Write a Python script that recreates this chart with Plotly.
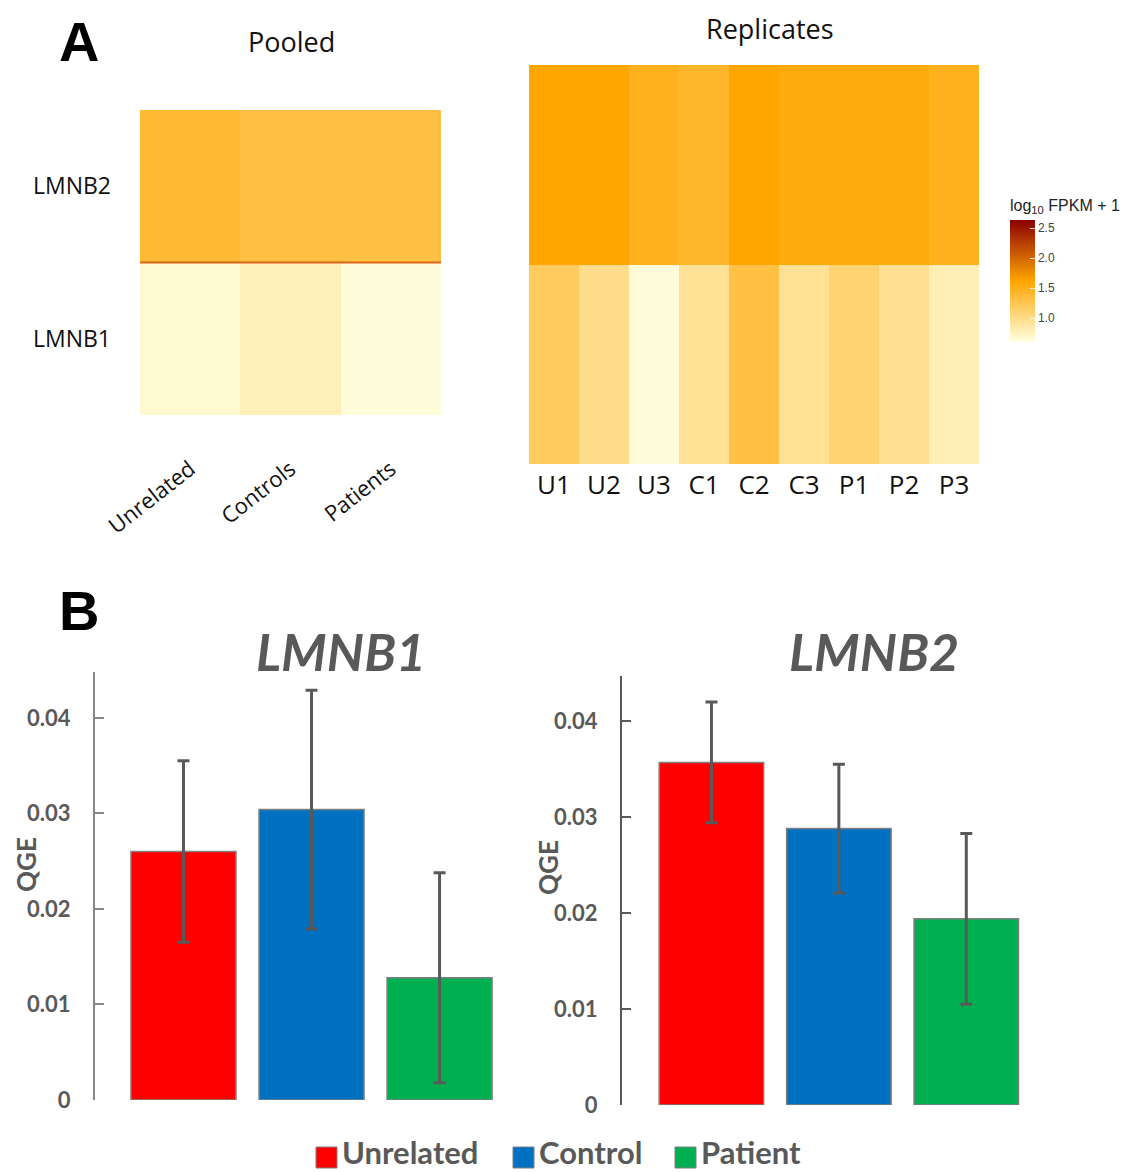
import plotly.graph_objects as go

# ---------------- data ----------------
pooled_groups = ["Unrelated", "Controls", "Patients"]
genes = ["LMNB1", "LMNB2"]
pooled_lmnb1 = [0.67, 0.78, 0.63]
pooled_lmnb2 = [1.38, 1.31, 1.31]

replicates = ["U1", "U2", "U3", "C1", "C2", "C3", "P1", "P2", "P3"]
rep_lmnb1 = [1.19, 0.99, 0.63, 0.94, 1.31, 0.94, 1.10, 0.95, 0.79]
rep_lmnb2 = [1.60, 1.60, 1.48, 1.42, 1.60, 1.55, 1.55, 1.55, 1.48]

bar_groups = ["Unrelated", "Control", "Patient"]
bar_colors = ["#FF0000", "#0070C0", "#00B050"]
lmnb1_qge = [0.0260, 0.0304, 0.0128]
lmnb1_err = [0.0095, 0.0125, 0.0110]
lmnb2_qge = [0.0357, 0.0288, 0.0194]
lmnb2_err = [0.0063, 0.0067, 0.0089]

W, H = 1132, 1172
OFF = 8  # page body margin
def px(x):
    return (x - OFF) / W
def py(y):
    return 1 - (y - OFF) / H

cscale = [[0, "#FFFFE0"], [0.5, "#FFA500"], [1, "#8B0000"]]
ZMIN, ZMAX = 0.6, 2.63

fig = go.Figure()

# pooled heatmap
fig.add_trace(go.Heatmap(
    z=[pooled_lmnb1, pooled_lmnb2], x=pooled_groups, y=genes,
    colorscale=cscale, zmin=ZMIN, zmax=ZMAX, showscale=False,
    xaxis="x", yaxis="y"))

# replicate heatmap
fig.add_trace(go.Heatmap(
    z=[rep_lmnb1, rep_lmnb2], x=replicates, y=genes,
    colorscale=cscale, zmin=ZMIN, zmax=ZMAX, showscale=True,
    xaxis="x2", yaxis="y2",
    colorbar=dict(
        x=px(1010), xanchor="left", xpad=0, y=py(342), yanchor="bottom", ypad=0,
        len=(342 - 196) / H, lenmode="fraction", thickness=25,
        outlinewidth=0, tickvals=[1.0, 1.5, 2.0, 2.5],
        ticktext=["1.0", "1.5", "2.0", "2.5"],
        ticks="inside", ticklen=5, tickcolor="rgba(255,255,255,0.8)",
        tickfont=dict(family="Liberation Sans", size=12, color="#444444"),
        title=dict(text="log<sub>10</sub> FPKM + 1", side="top",
                   font=dict(family="Liberation Sans", size=16, color="#222222")),
    )))

# thin dark line separating the pooled rows
fig.add_shape(type="line", xref="x domain", yref="y", x0=0, x1=1, y0=0.5, y1=0.5,
              line=dict(color="#D9651A", width=2))

# bar charts
for i in range(3):
    fig.add_trace(go.Bar(
        x=[i], y=[lmnb1_qge[i]], marker=dict(color=bar_colors[i], line=dict(color="#7F7F7F", width=1.5)),
        error_y=dict(type="data", array=[lmnb1_err[i]], color="#595959", thickness=3, width=6),
        width=0.82, name=bar_groups[i], showlegend=False, xaxis="x3", yaxis="y3"))
    fig.add_trace(go.Bar(
        x=[i], y=[lmnb2_qge[i]], marker=dict(color=bar_colors[i], line=dict(color="#7F7F7F", width=1.5)),
        error_y=dict(type="data", array=[lmnb2_err[i]], color="#595959", thickness=3, width=6),
        width=0.82, name=bar_groups[i], showlegend=False, xaxis="x4", yaxis="y4"))

hm_axis = dict(showgrid=False, zeroline=False, showline=False, ticks="", automargin=False)
tickfont_bar = dict(family="Lato", size=22, color="#595959", weight="bold")

fig.update_layout(
    width=W, height=H, margin=dict(l=0, r=0, t=0, b=0, autoexpand=False),
    paper_bgcolor="white", plot_bgcolor="white", showlegend=False,
    xaxis=dict(domain=[px(140), px(441)], anchor="y", tickangle=-38,
               tickfont=dict(family="Open Sans", size=22, color="#111111"),
               ticklabelstandoff=36, **hm_axis),
    yaxis=dict(domain=[py(415), py(110)], anchor="x",
               tickfont=dict(family="Open Sans", size=23, color="#111111"),
               ticklabelstandoff=28, **hm_axis),
    xaxis2=dict(domain=[px(529), px(979)], anchor="y2",
                tickfont=dict(family="Open Sans", size=26, color="#111111"),
                ticklabelstandoff=3, **hm_axis),
    yaxis2=dict(domain=[py(464), py(65)], anchor="x2", showticklabels=False, **hm_axis),
    xaxis3=dict(domain=[px(95), px(510)], anchor="y3", range=[-0.691, 2.55], automargin=False,
                showticklabels=False, showgrid=False, zeroline=False, showline=False, ticks=""),
    yaxis3=dict(domain=[py(1100), py(672)], anchor="x3", range=[0, 0.0448], automargin=False,
                tickvals=[0, 0.01, 0.02, 0.03, 0.04], ticktext=["0", "0.01", "0.02", "0.03", "0.04"],
                showline=True, linecolor="#868686", linewidth=2, ticks="inside", ticklen=9,
                tickcolor="#868686", tickwidth=2, showgrid=False, zeroline=False,
                tickfont=tickfont_bar, ticklabelstandoff=18),
    xaxis4=dict(domain=[px(622), px(1030)], anchor="y4", range=[-0.702, 2.5], automargin=False,
                showticklabels=False, showgrid=False, zeroline=False, showline=False, ticks=""),
    yaxis4=dict(domain=[py(1105), py(676)], anchor="x4", range=[0, 0.0447], automargin=False,
                tickvals=[0, 0.01, 0.02, 0.03, 0.04], ticktext=["0", "0.01", "0.02", "0.03", "0.04"],
                showline=True, linecolor="#595959", linewidth=2, ticks="inside", ticklen=9,
                tickcolor="#595959", tickwidth=2, showgrid=False, zeroline=False,
                tickfont=tickfont_bar, ticklabelstandoff=18),
)

annots = [
    dict(text="<b>A</b>", x=px(79), y=1, yanchor="top", font=dict(family="Liberation Sans", size=56, color="black")),
    dict(text="<b>B</b>", x=px(79), y=py(610), font=dict(family="Liberation Sans", size=56, color="black")),
    dict(text="Pooled", x=px(291), y=py(41), font=dict(family="Open Sans", size=27, color="#111111")),
    dict(text="Replicates", x=px(770), y=1, yanchor="top", font=dict(family="Open Sans", size=27, color="#111111")),
    dict(text="<b><i>LMNB1</i></b>", x=px(341), y=py(651), font=dict(family="Lato", size=52, color="#595959")),
    dict(text="<b><i>LMNB2</i></b>", x=px(874), y=py(651), font=dict(family="Lato", size=52, color="#595959")),
    dict(text="<b>QGE</b>", x=0, xanchor="left", y=py(865), textangle=-90, font=dict(family="Lato", size=26, color="#595959")),
    dict(text="<b>QGE</b>", x=px(548), y=py(868), textangle=-90, font=dict(family="Lato", size=26, color="#595959")),
]
for a in annots:
    a.setdefault("xanchor", "center")
    a.setdefault("yanchor", "middle")
    a.update(xref="paper", yref="paper", showarrow=False)
    fig.add_annotation(**a)

# legend built as annotations + squares
leg_items = [(316, "Unrelated"), (513, "Control"), (675, "Patient")]
for (lx, label), col in zip(leg_items, bar_colors):
    fig.add_shape(type="rect", xref="paper", yref="paper",
                  x0=px(lx), x1=px(lx + 21), y0=py(1168), y1=py(1147),
                  fillcolor=col, line=dict(color="#7F7F7F", width=1))
    fig.add_annotation(text="<b>" + label + "</b>", xref="paper", yref="paper",
                       x=px(lx + 24), y=py(1152), xanchor="left", yanchor="middle", showarrow=False,
                       font=dict(family="Lato", size=31, color="#595959"))

fig.write_html("out.html")
